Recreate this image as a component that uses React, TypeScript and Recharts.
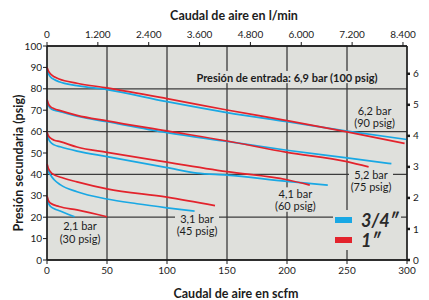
import {
  LineChart,
  Line,
  XAxis,
  YAxis,
  CartesianGrid,
  ReferenceDot,
  Label,
  Legend,
} from 'recharts'

const LMIN_PER_SCFM = 28.3168
const PSI_PER_BAR = 14.5038

const BLUE = '#19a8e4'
const RED = '#e3232c'
const PLOT_BG = '#dfe0dc'
const INK = '#1c1c1c'
const FONT = 'Lato, "Noto Sans", sans-serif'

// axes
const scfmTicks = [0, 50, 100, 150, 200, 250, 300]
const lminTicks = [0, 1200, 2400, 3600, 4800, 6000, 7200, 8400]
const psigTicks = [0, 10, 20, 30, 40, 50, 60, 70, 80, 90, 100]
const barTicks = [0, 1, 2, 3, 4, 5, 6]

// curves, [scfm, psig]
// 3/4" regulator
const blue90 = [[0, 90], [1, 87.5], [3, 85.5], [6, 84.3], [10, 83.3], [25, 81.5], [50, 79.6], [100, 74], [150, 68.9], [200, 64.6], [250, 60.2], [300, 56.3]]
const blue75 = [[0, 75], [1, 72.5], [3, 70.8], [6, 70], [11, 69.3], [25, 67.2], [50, 64.6], [100, 59.5], [150, 55.4], [200, 51.3], [250, 47.7], [287, 45]]
const blue60 = [[0, 60], [1, 57], [3, 55], [6, 53.8], [11, 52.9], [25, 50.9], [50, 48.3], [100, 43.2], [125, 40.6], [150, 39.7], [200, 36.7], [234, 35]]
const blue45 = [[0, 45], [1, 42], [3, 39.7], [6, 37.5], [11, 35.2], [25, 31.9], [50, 28.5], [75, 26.3], [100, 24.4], [123, 22.8]]
const blue30 = [[0, 30], [1, 27], [3, 25], [6, 24], [11, 22.9], [18, 21.3], [23, 20.2]]

// 1" regulator
const red90 = [[0, 90], [1, 88.5], [3, 86.9], [6, 85.6], [10, 84.6], [25, 82.6], [50, 80.4], [100, 75.4], [150, 70.1], [200, 65.1], [250, 59.9], [298, 54.5]]
const red75 = [[0, 75], [1, 73.2], [3, 71.6], [6, 70.7], [11, 69.8], [25, 67.6], [50, 65], [100, 60.3], [150, 55.6], [200, 50.3], [250, 46], [268, 43.5]]
const red60 = [[0, 60], [1, 58.2], [3, 56.9], [6, 56], [11, 55.3], [25, 52.8], [50, 50.3], [100, 45.7], [150, 41.3], [200, 37.5], [219, 35]]
const red45 = [[0, 45], [1, 43], [4, 40.5], [14, 38.2], [25, 36.5], [50, 33.2], [100, 29.4], [140, 25.4]]
const red30 = [[0, 30], [1, 28], [3, 26.5], [10, 25], [25, 23.4], [50, 20.2]]

const series = [
  { id: 'b90', color: BLUE, pts: blue90 },
  { id: 'r90', color: RED, pts: red90 },
  { id: 'b75', color: BLUE, pts: blue75 },
  { id: 'r75', color: RED, pts: red75 },
  { id: 'b60', color: BLUE, pts: blue60 },
  { id: 'r60', color: RED, pts: red60 },
  { id: 'b45', color: BLUE, pts: blue45 },
  { id: 'r45', color: RED, pts: red45 },
  { id: 'b30', color: BLUE, pts: blue30 },
  { id: 'r30', color: RED, pts: red30 },
]

// in-plot notes: anchor in [scfm, psig]
const notes = [
  { q: 200, p: 85.5, lines: ['Presión de entrada: 6,9 bar (100 psig)'], w: 186, bold: true },
  { q: 273, p: 70, lines: ['6,2 bar', '(90 psig)'], w: 44 },
  { q: 270, p: 40, lines: ['5,2 bar', '(75 psig)'], w: 44 },
  { q: 207, p: 31.1, lines: ['4,1 bar', '(60 psig)'], w: 44 },
  { q: 125, p: 19.6, lines: ['3,1 bar', '(45 psig)'], w: 44 },
  { q: 27.5, p: 15.9, lines: ['2,1 bar', '(30 psig)'], w: 44 },
]

const legendItems = [
  { label: '3/4″', color: BLUE },
  { label: '1″', color: RED },
]

const toPoints = (arr: number[][]) => arr.map(([q, p]) => ({ q, p }))

// the l/min axis has no series of its own; give it its tick values so it gets a domain
const lminAxisData = lminTicks.map((lmin) => ({ lmin }))

const dots = (v: number) => String(v).replace(/\B(?=(\d{3})+(?!\d))/g, '.')

function Note({ cx, cy, lines, w, bold }: any) {
  const lh = 12.2
  return (
    <g>
      <rect x={cx - w / 2} y={cy - lh / 2} width={w} height={lines.length * lh} fill={PLOT_BG} />
      {lines.map((t: string, i: number) => (
        <text
          key={i}
          x={cx}
          y={cy + i * lh}
          textAnchor="middle"
          dominantBaseline="central"
          fontSize={11}
          fontWeight={bold ? 700 : 400}
          fontFamily={FONT}
          fill={INK}
        >
          {t}
        </text>
      ))}
    </g>
  )
}

function LegendBox() {
  return (
    <div style={{ fontFamily: FONT }}>
      {legendItems.map((it) => (
        <div
          key={it.label}
          style={{
            display: 'flex',
            alignItems: 'center',
            background: PLOT_BG,
            height: 20,
            paddingLeft: 2,
            paddingRight: 2,
            width: 'fit-content',
          }}
        >
          <span style={{ width: 17, height: 6, background: it.color, display: 'inline-block' }} />
          <span
            style={{
              marginLeft: 9,
              fontSize: 18,
              fontWeight: 700,
              fontStyle: 'italic',
              color: '#2a2a2a',
              lineHeight: '20px',
            }}
          >
            {it.label}
          </span>
        </div>
      ))}
    </div>
  )
}

function SideTitle({ viewBox, text }: any) {
  const x = viewBox.x + 18
  const y = viewBox.y + viewBox.height / 2 + 10
  return (
    <text
      x={x}
      y={y}
      transform={`rotate(-90, ${x}, ${y})`}
      textAnchor="middle"
      dominantBaseline="central"
      fontSize={12.5}
      fontWeight={700}
      fontFamily={FONT}
      fill={INK}
    >
      {text}
    </text>
  )
}

const tickStyle = { fontSize: 10, fill: INK, fontFamily: FONT }
const axisLine = { stroke: '#1a1a1a', strokeWidth: 1.3 }

export default function App() {
  return (
    <div style={{ position: 'absolute', left: 0, top: 0, background: '#fff' }}>
      <LineChart
        width={429}
        height={300}
        margin={{ top: 0, right: 0, bottom: 0, left: 0 }}
        style={{ fontFamily: FONT }}
      >
        <CartesianGrid
          xAxisId="bottom"
          yAxisId="psi"
          fill={PLOT_BG}
          fillOpacity={1}
          stroke="#3c3c3c"
          strokeWidth={1.3}
        />
        <XAxis
          xAxisId="bottom"
          dataKey="q"
          type="number"
          orientation="bottom"
          domain={[0, 300]}
          ticks={scfmTicks}
          height={40}
          tick={tickStyle}
          tickSize={4}
          tickMargin={3}
          axisLine={axisLine}
          tickLine={{ stroke: '#1a1a1a' }}
        >
          <Label
            value="Caudal de aire en scfm"
            position="insideBottom"
            offset={2}
            dx={9}
            style={{ fontSize: 12.5, fontWeight: 700, fill: INK, fontFamily: FONT }}
          />
        </XAxis>
        <XAxis
          xAxisId="top"
          dataKey="lmin"
          type="number"
          orientation="top"
          domain={[0, 300 * LMIN_PER_SCFM]}
          allowDataOverflow
          ticks={lminTicks}
          tickFormatter={dots}
          height={46}
          tick={tickStyle}
          tickSize={4}
          tickMargin={4}
          axisLine={axisLine}
          tickLine={{ stroke: '#1a1a1a' }}
        >
          <Label
            value="Caudal de aire en l/min"
            position="insideTop"
            offset={11}
            dx={7}
            style={{ fontSize: 12.5, fontWeight: 700, fill: INK, fontFamily: FONT }}
          />
        </XAxis>
        <YAxis
          yAxisId="psi"
          orientation="left"
          type="number"
          domain={[0, 100]}
          ticks={psigTicks}
          width={47}
          tick={tickStyle}
          tickSize={4}
          tickMargin={1}
          axisLine={axisLine}
          tickLine={{ stroke: '#1a1a1a' }}
        >
          <Label content={(props: any) => <SideTitle {...props} text="Presión secundaria (psig)" />} />
        </YAxis>
        <YAxis
          yAxisId="bar"
          orientation="right"
          type="number"
          domain={[0, 100 / PSI_PER_BAR]}
          allowDataOverflow
          ticks={barTicks}
          width={22}
          tick={tickStyle}
          tickSize={3}
          tickMargin={3}
          axisLine={axisLine}
          tickLine={{ stroke: '#1a1a1a', strokeWidth: 2.5 }}
        />
        <Line
          xAxisId="top"
          yAxisId="bar"
          data={lminAxisData}
          dataKey="none"
          stroke="none"
          dot={false}
          activeDot={false}
          legendType="none"
          isAnimationActive={false}
        />
        {series.map((s) => (
          <Line
            key={s.id}
            xAxisId="bottom"
            yAxisId="psi"
            data={toPoints(s.pts)}
            dataKey="p"
            type="monotone"
            stroke={s.color}
            strokeWidth={1.7}
            dot={false}
            activeDot={false}
            isAnimationActive={false}
          />
        ))}
        {notes.map((n) => (
          <ReferenceDot
            key={n.lines[0]}
            xAxisId="bottom"
            yAxisId="psi"
            x={n.q}
            y={n.p}
            r={0}
            shape={(props: any) => <Note {...props} lines={n.lines} w={n.w} bold={n.bold} />}
          />
        ))}
        <Legend
          layout="horizontal"
          verticalAlign="middle"
          align="center"
          wrapperStyle={{ position: 'absolute', left: 333, top: 210, width: 'auto' }}
          content={() => <LegendBox />}
        />
      </LineChart>
    </div>
  )
}
